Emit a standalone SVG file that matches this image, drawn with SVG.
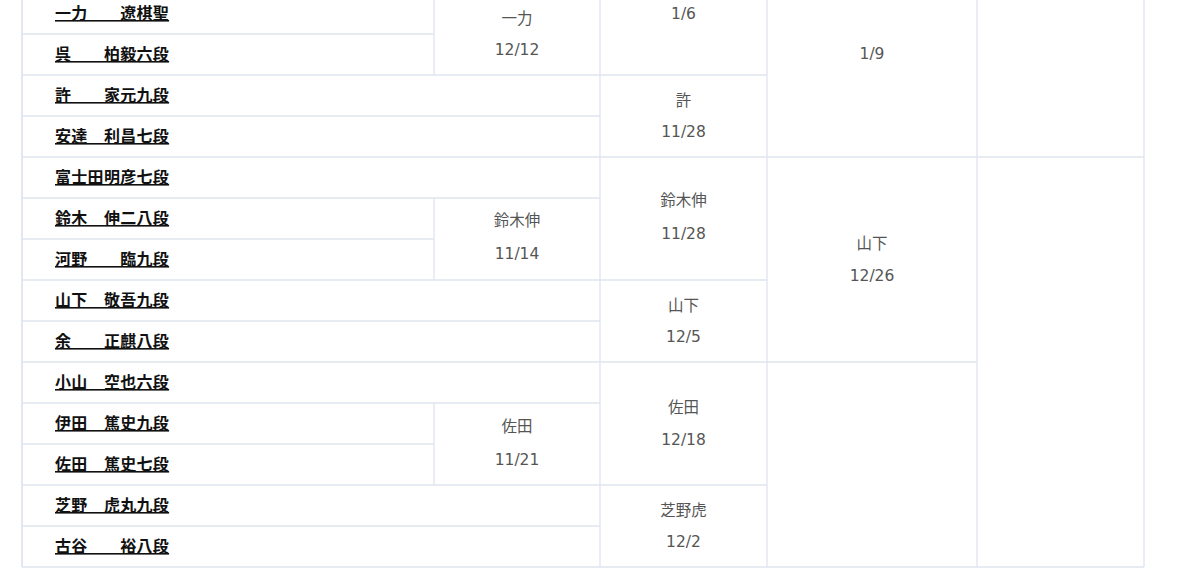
<svg xmlns="http://www.w3.org/2000/svg" width="1200" height="580" viewBox="0 0 1200 580">
<style>
.g line{stroke:#dfe4ee;stroke-width:1.3}
.n{font-family:"Noto Sans CJK JP","Liberation Sans",sans-serif;font-size:16px;font-weight:bold;fill:#111;text-decoration:underline;letter-spacing:0.3px}
.m{font-family:"DejaVu Sans","Noto Sans CJK JP",sans-serif;font-size:15.5px;fill:#555;text-anchor:middle}
</style>
<rect width="1200" height="580" fill="#fff"/>
<g id="grid" class="g">
<line x1="22" y1="0" x2="22" y2="567" style="stroke-width:2;stroke:#e4e7ef"/>
<line x1="434" y1="0" x2="434" y2="75"/>
<line x1="434" y1="198" x2="434" y2="280"/>
<line x1="434" y1="403" x2="434" y2="485"/>
<line x1="600" y1="0" x2="600" y2="567"/>
<line x1="767" y1="0" x2="767" y2="567"/>
<line x1="977" y1="0" x2="977" y2="567"/>
<line x1="1144" y1="0" x2="1144" y2="567"/>
<line x1="22" y1="34" x2="434" y2="34"/>
<line x1="22" y1="75" x2="767" y2="75"/>
<line x1="22" y1="116" x2="600" y2="116"/>
<line x1="22" y1="157" x2="1144" y2="157"/>
<line x1="22" y1="198" x2="600" y2="198"/>
<line x1="22" y1="239" x2="434" y2="239"/>
<line x1="22" y1="280" x2="767" y2="280"/>
<line x1="22" y1="321" x2="600" y2="321"/>
<line x1="22" y1="362" x2="977" y2="362"/>
<line x1="22" y1="403" x2="600" y2="403"/>
<line x1="22" y1="444" x2="434" y2="444"/>
<line x1="22" y1="485" x2="767" y2="485"/>
<line x1="22" y1="526" x2="600" y2="526"/>
<line x1="22" y1="567" x2="1144" y2="567"/>
</g>
<g id="p1"><text class="n" x="55" y="19">一力　　遼棋聖</text></g>
<g id="p2"><text class="n" x="55" y="60">呉　　柏毅六段</text></g>
<g id="p3"><text class="n" x="55" y="101">許　　家元九段</text></g>
<g id="p4"><text class="n" x="55" y="142">安達　利昌七段</text></g>
<g id="p5"><text class="n" x="55" y="183">富士田明彦七段</text></g>
<g id="p6"><text class="n" x="55" y="224">鈴木　伸二八段</text></g>
<g id="p7"><text class="n" x="55" y="265">河野　　臨九段</text></g>
<g id="p8"><text class="n" x="55" y="306">山下　敬吾九段</text></g>
<g id="p9"><text class="n" x="55" y="347">余　　正麒八段</text></g>
<g id="p10"><text class="n" x="55" y="388">小山　空也六段</text></g>
<g id="p11"><text class="n" x="55" y="429">伊田　篤史九段</text></g>
<g id="p12"><text class="n" x="55" y="470">佐田　篤史七段</text></g>
<g id="p13"><text class="n" x="55" y="511">芝野　虎丸九段</text></g>
<g id="p14"><text class="n" x="55" y="552">古谷　　裕八段</text></g>
<g id="r1a"><text class="m" x="517" y="23.5">一力</text><text class="m" x="517" y="55">12/12</text></g>
<g id="r1b"><text class="m" x="517" y="226">鈴木伸</text><text class="m" x="517" y="259">11/14</text></g>
<g id="r1c"><text class="m" x="517" y="431.5">佐田</text><text class="m" x="517" y="465">11/21</text></g>
<g id="r2a"><text class="m" x="683.5" y="19">1/6</text></g>
<g id="r2b"><text class="m" x="683.5" y="105.5">許</text><text class="m" x="683.5" y="137">11/28</text></g>
<g id="r2c"><text class="m" x="683.5" y="206">鈴木伸</text><text class="m" x="683.5" y="239">11/28</text></g>
<g id="r2d"><text class="m" x="683.5" y="310.5">山下</text><text class="m" x="683.5" y="342">12/5</text></g>
<g id="r2e"><text class="m" x="683.5" y="413">佐田</text><text class="m" x="683.5" y="444.5">12/18</text></g>
<g id="r2f"><text class="m" x="683.5" y="515.5">芝野虎</text><text class="m" x="683.5" y="547">12/2</text></g>
<g id="r3a"><text class="m" x="872" y="59">1/9</text></g>
<g id="r3b"><text class="m" x="872" y="249">山下</text><text class="m" x="872" y="281">12/26</text></g>
</svg>
